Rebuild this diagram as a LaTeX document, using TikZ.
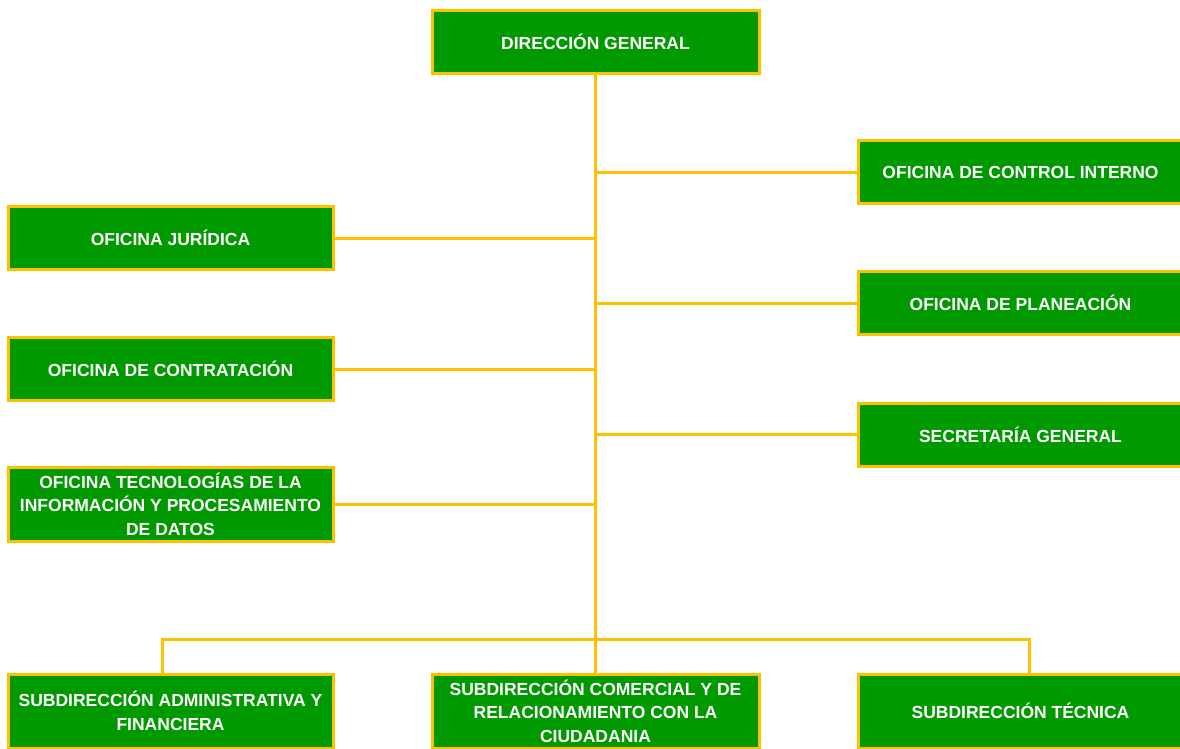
\documentclass[tikz,border=0pt]{standalone}
\usepackage{fontspec}
\setmainfont{Liberation Sans}
\definecolor{orggreen}{HTML}{009900}
\definecolor{orgyellow}{HTML}{FFC000}
\begin{document}
\begin{tikzpicture}[x=1pt,y=-1pt,
  unit/.style={draw=orgyellow, line width=3pt, fill=orggreen, text=white,
    inner sep=0pt, align=center, minimum width=325pt, minimum height=63pt,
    font=\fontsize{17.5}{23.5}\selectfont\bfseries},
  tallunit/.style={unit, minimum height=74pt},
  link/.style={draw=orgyellow, line width=3pt}]
\useasboundingbox (0,0) rectangle (1180,748);
\clip (0,0) rectangle (1180,748);

% ends of the bus that feeds the three sub-directorates
\coordinate (busL) at (162,639);
\coordinate (busR) at (1029,639);

% boxes
\node[unit, minimum width=327pt] (dg) at (595.5,41.5) {DIRECCIÓN GENERAL};

\node[unit] (jur) at (170.5,238) {OFICINA JURÍDICA};
\node[unit] (con) at (170.5,369) {OFICINA DE CONTRATACIÓN};
\node[tallunit] (tic) at (170.5,504) {OFICINA TECNOLOGÍAS DE LA\\INFORMACIÓN Y PROCESAMIENTO\\DE DATOS};

\node[unit] (oci) at (1020.5,172) {OFICINA DE CONTROL INTERNO};
\node[unit] (pla) at (1020.5,303) {OFICINA DE PLANEACIÓN};
\node[unit] (sec) at (1020.5,434.5) {SECRETARÍA GENERAL};

\node[tallunit] (adm) at (170.5,711) {SUBDIRECCIÓN ADMINISTRATIVA Y\\FINANCIERA};
\node[tallunit, minimum width=327pt] (com) at (595.5,711) {SUBDIRECCIÓN COMERCIAL Y DE\\RELACIONAMIENTO CON LA\\CIUDADANIA};
\node[tallunit] (tec) at (1020.5,711) {SUBDIRECCIÓN TÉCNICA};

% connectors: trunk, side branches and the lower bus
\draw[link] (dg.south) -- (com.north);
\draw[link] (oci.west) -- (oci.west -| dg.south);
\draw[link] (pla.west) -- (pla.west -| dg.south);
\draw[link] (sec.west) -- (sec.west -| dg.south);
\draw[link] (jur.east) -- (jur.east -| dg.south);
\draw[link] (con.east) -- (con.east -| dg.south);
\draw[link] (tic.east) -- (tic.east -| dg.south);
\draw[link] (busL |- adm.north) -- (busL) -- (busR) -- (busR |- tec.north);
\end{tikzpicture}
\end{document}
